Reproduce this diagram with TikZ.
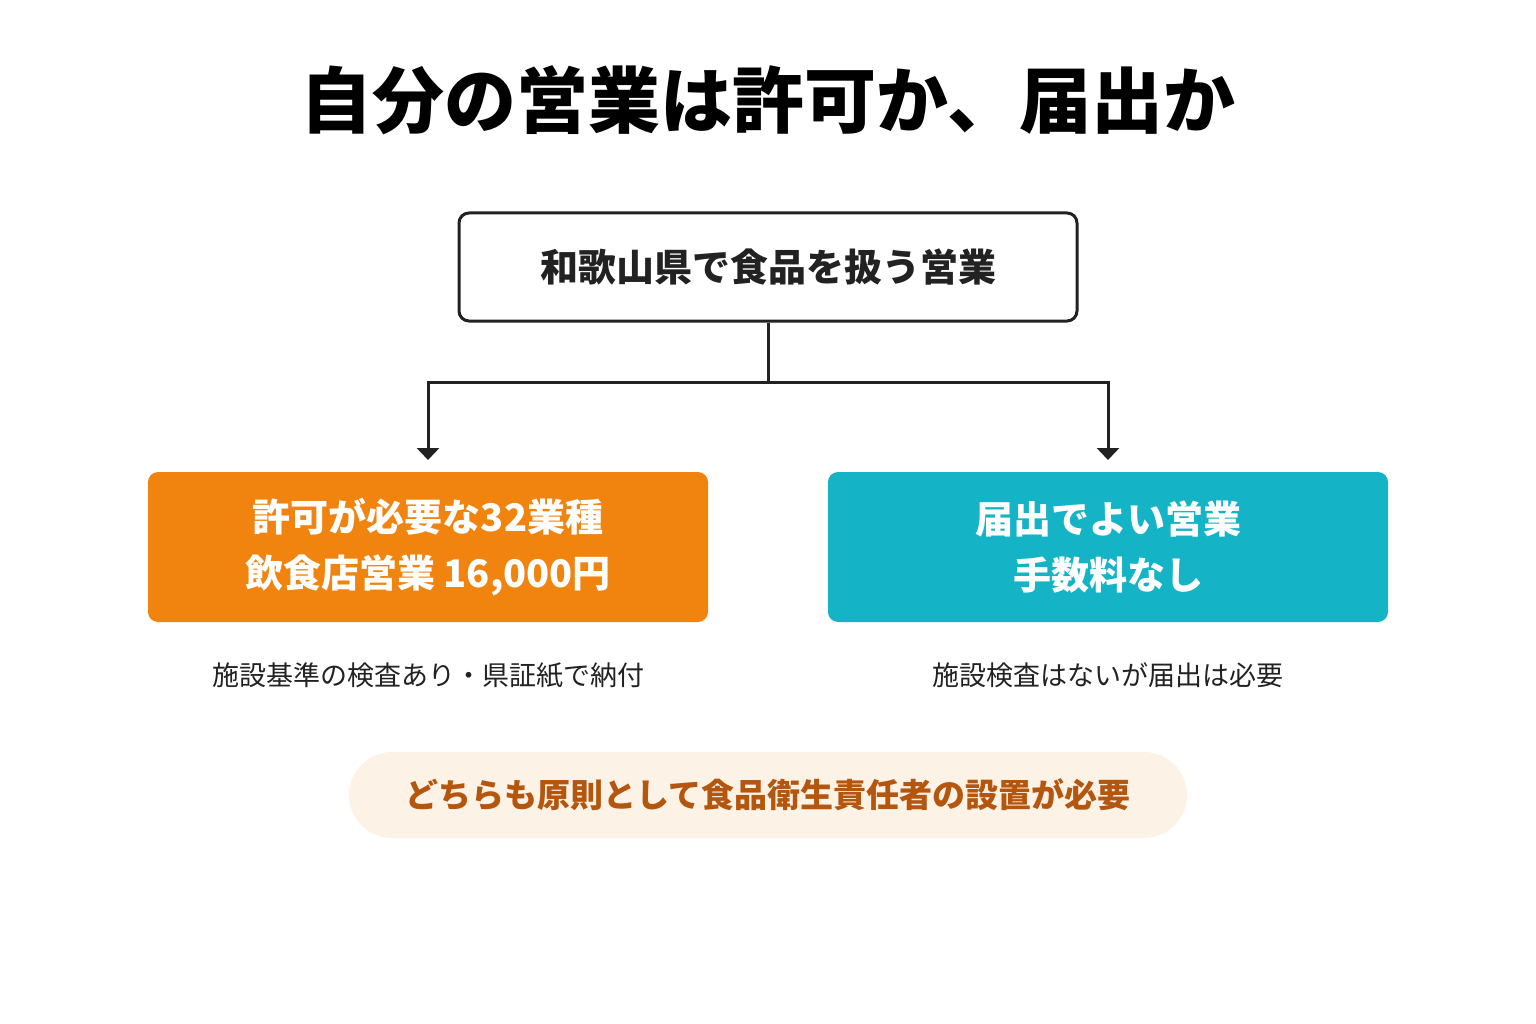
\documentclass[tikz,border=0pt]{standalone}
\usepackage{fontspec}
\setmainfont{Noto Sans CJK JP}
\usetikzlibrary{arrows.meta}
\definecolor{ink}{HTML}{222222}
\definecolor{org}{HTML}{F0840F}
\definecolor{teal}{HTML}{14B4C6}
\definecolor{pill}{HTML}{FDF2E6}
\definecolor{pilltxt}{HTML}{B4560E}
\begin{document}
\begin{tikzpicture}[x=1pt,y=-1pt,
  box/.style={draw=none,rounded corners=10pt,text=white,font=\fontsize{38}{56}\selectfont\bfseries,align=center},
  captxt/.style={font=\fontsize{27}{32}\selectfont,text=ink},
  conn/.style={draw=ink,line width=3pt}]
\useasboundingbox (0,0) rectangle (1536,1024);
\fill[white] (0,0) rectangle (1536,1024);
\node (title) at (768,100) {\fontsize{72}{80}\selectfont\bfseries 自分の営業は許可か、届出か};
\node[draw=ink,line width=3pt,rounded corners=10pt,minimum width=618pt,minimum height=108pt,font=\fontsize{38}{44}\selectfont\bfseries,text=ink] (top) at (768,267) {和歌山県で食品を扱う営業};
\node[box,fill=org,minimum width=560pt,minimum height=150pt] (perm) at (428,547) {許可が必要な32業種\\飲食店営業 16,000円};
\node[box,fill=teal,minimum width=560pt,minimum height=150pt] (noti) at (1108,547) {届出でよい営業\\手数料なし};
\coordinate (j) at (768,382);
\coordinate (jl) at (428,382);
\coordinate (jr) at (1108,382);
\draw[conn] (top.south) -- (j);
\draw[conn,-{Triangle[length=12pt,width=22pt]}] (j) -- (jl) -- (perm.north|-0,460);
\draw[conn,-{Triangle[length=12pt,width=22pt]}] (j) -- (jr) -- (noti.north|-0,460);
\node[captxt] (c1) at (428,675) {施設基準の検査あり・県証紙で納付};
\node[captxt] (c2) at (1108,675) {施設検査はないが届出は必要};
\node[fill=pill,rounded corners=43pt,minimum width=838pt,minimum height=86pt,text=pilltxt,font=\fontsize{33}{40}\selectfont\bfseries] (note) at (768,795) {どちらも原則として食品衛生責任者の設置が必要};
\end{tikzpicture}
\end{document}
